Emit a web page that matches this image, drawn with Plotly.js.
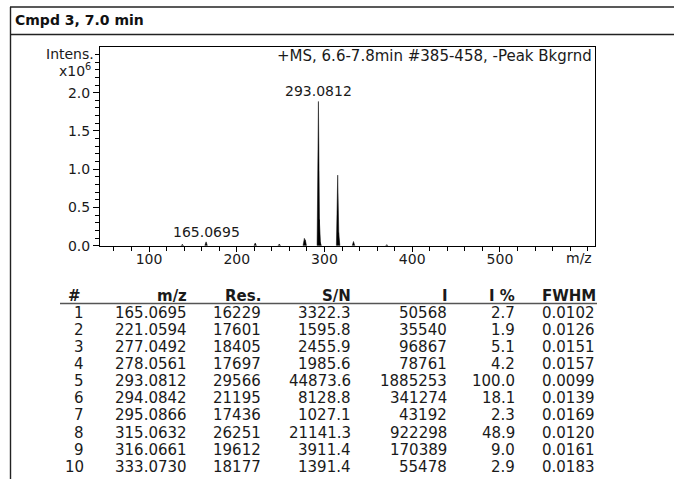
<!DOCTYPE html>
<html><head><meta charset="utf-8">
<script src="https://cdn.plot.ly/plotly-3.0.1.min.js"></script>
<style>html,body{margin:0;padding:0;background:#fff;} #chart{width:674px;height:479px;}</style>
</head><body><div id="chart"></div>
<script>
// ---- data ----
const rowNo   = [1,2,3,4,5,6,7,8,9,10];
const mzText  = ["165.0695","221.0594","277.0492","278.0561","293.0812","294.0842","295.0866","315.0632","316.0661","333.0730"];
const resVals = [16229,17601,18405,17697,29566,21195,17436,26251,19612,18177];
const snText  = ["3322.3","1595.8","2455.9","1985.6","44873.6","8128.8","1027.1","21141.3","3911.4","1391.4"];
const intens  = [50568,35540,96867,78761,1885253,341274,43192,922298,170389,55478];
const relText = ["2.7","1.9","5.1","4.2","100.0","18.1","2.3","48.9","9.0","2.9"];
const fwhmText= ["0.0102","0.0126","0.0151","0.0157","0.0099","0.0139","0.0169","0.0120","0.0161","0.0183"];
const minorMz = [138.0, 248.5, 371.0];
const minorI  = [18000, 22000, 12000];
const labelledRows = [0, 4];
const colHeaders = ["#","m/z","Res.","S/N","I","I %","FWHM"];
const xTickVals = [100,200,300,400,500];
const xTickText = ["100","200","300","400","500"];
const yTickVals = [0,0.5,1.0,1.5,2.0];
const yTickText = ["0.0","0.5","1.0","1.5","2.0"];
const titleText = "+MS, 6.6-7.8min #385-458, -Peak Bkgrnd";
const headerText = "Cmpd 3, 7.0 min";

// ---- layout helpers ----
const W = 674, H = 479;
const px = v => v / W, py = v => 1 - v / H;
const FONT = "DejaVu Sans";
const TXT = "#1a1a1a";
const halfW = 1.5; // visual half-width of a peak at its base (m/z units)

const sx = [], sy = [];
mzText.map(Number).concat(minorMz).forEach((m, i) => {
  const I = intens.concat(minorI)[i] / 1e6;
  sx.push(m - halfW, m, m + halfW, null);
  sy.push(0, I, 0, null);
});

const traces = [{
  type: "scatter", mode: "lines", x: sx, y: sy,
  fill: "toself", fillcolor: "#000",
  line: {width: 0.5, color: "#000"}, hoverinfo: "skip", showlegend: false
}];

const annotations = [];
// header
annotations.push({xref:"paper", yref:"paper", x:px(13), y:py(20.5), xanchor:"left", yanchor:"middle",
  text:"<b>"+headerText+"</b>", showarrow:false, font:{family:FONT, size:14, color:"#111"}});
// spectrum title
annotations.push({xref:"paper", yref:"paper", x:px(594), y:py(56), xanchor:"right", yanchor:"middle",
  text:titleText, showarrow:false, font:{family:FONT, size:15, color:TXT}});
// Intens. / x10^6
annotations.push({xref:"paper", yref:"y", x:px(96), y:2.5, xanchor:"right", yanchor:"middle",
  text:"Intens.", showarrow:false, font:{family:FONT, size:14, color:TXT}});
annotations.push({xref:"paper", yref:"y", x:px(93), y:2.3, xanchor:"right", yanchor:"middle",
  text:"x10<sup>6</sup>", showarrow:false, font:{family:FONT, size:14, color:TXT}});
// m/z axis label
annotations.push({xref:"paper", yref:"paper", x:px(594), y:py(258), xanchor:"right", yanchor:"middle",
  text:"m/z", showarrow:false, font:{family:FONT, size:14, color:TXT}});
// peak labels
labelledRows.forEach(r => {
  annotations.push({xref:"x", yref:"y", x:Number(mzText[r]), y:intens[r]/1e6, xanchor:"center", yanchor:"bottom",
    text:mzText[r], showarrow:false, yshift:0, font:{family:FONT, size:14, color:TXT}});
});
// table
const columns = [rowNo, mzText, resVals, snText, intens, relText, fwhmText];
const headRight = [82, 188, 262, 352, 449, 516, 597];
const cellRight = [85, 188, 262, 352, 448, 516, 596];
colHeaders.forEach((h, c) => {
  annotations.push({xref:"paper", yref:"paper", x:px(headRight[c]), y:py(295.5), xanchor:"right", yanchor:"middle",
    text:"<b>"+h+"</b>", showarrow:false, borderpad:0, font:{family:FONT, size:15, color:TXT}});
});
columns.forEach((col, c) => {
  col.forEach((v, r) => {
    annotations.push({xref:"paper", yref:"paper", x:px(cellRight[c]), y:py(312.5 + 17.16*r), xanchor:"right", yanchor:"middle",
      text:String(v), showarrow:false, borderpad:0, font:{family:FONT, size:15, color:TXT}});
  });
});

const shapes = [
  {type:"line", xref:"paper", yref:"paper", x0:px(10), x1:px(674), y0:py(7), y1:py(7), line:{color:"#222", width:1.4}},
  {type:"line", xref:"paper", yref:"paper", x0:px(10), x1:px(674), y0:py(34.5), y1:py(34.5), line:{color:"#222", width:1.4}},
  {type:"line", xref:"paper", yref:"paper", x0:px(10.5), x1:px(10.5), y0:py(7), y1:py(479), line:{color:"#222", width:1.4}},
  {type:"line", xref:"paper", yref:"paper", x0:px(60), x1:px(597), y0:py(303.5), y1:py(303.5), line:{color:"#555", width:1.3}}
];

const layout = {
  width: W, height: H,
  margin: {l:0, r:0, t:0, b:0, autoexpand:false},
  paper_bgcolor: "#fff", plot_bgcolor: "#fff",
  showlegend: false,
  xaxis: {
    domain: [px(100), px(595)], range: [44.16, 608.3],
    showline: true, mirror: true, linecolor: "#000", linewidth: 1,
    showgrid: false, zeroline: false,
    tickmode: "array", tickvals: xTickVals, ticktext: xTickText,
    ticks: "outside", ticklen: 5, tickwidth: 1, tickcolor: "#000",
    ticklabelstandoff: -5,
    minor: {dtick: 20, tick0: 0, ticks: "outside", ticklen: 4, tickwidth: 1, tickcolor: "#000", showgrid: false},
    tickfont: {family: FONT, size: 14, color: TXT}, fixedrange: true
  },
  yaxis: {
    domain: [py(245.7), py(47.3)], range: [0, 2.593],
    showline: true, mirror: true, linecolor: "#000", linewidth: 1,
    showgrid: false, zeroline: false,
    tickmode: "array", tickvals: yTickVals, ticktext: yTickText,
    ticks: "outside", ticklen: 6, tickwidth: 1, tickcolor: "#000",
    minor: {dtick: 0.1, tick0: 0, ticks: "outside", ticklen: 4, tickwidth: 1, tickcolor: "#000", showgrid: false},
    tickfont: {family: FONT, size: 14, color: TXT}, fixedrange: true
  },
  annotations: annotations,
  shapes: shapes
};

Plotly.newPlot("chart", traces, layout, {staticPlot: true, displayModeBar: false});
</script>
</body></html>
